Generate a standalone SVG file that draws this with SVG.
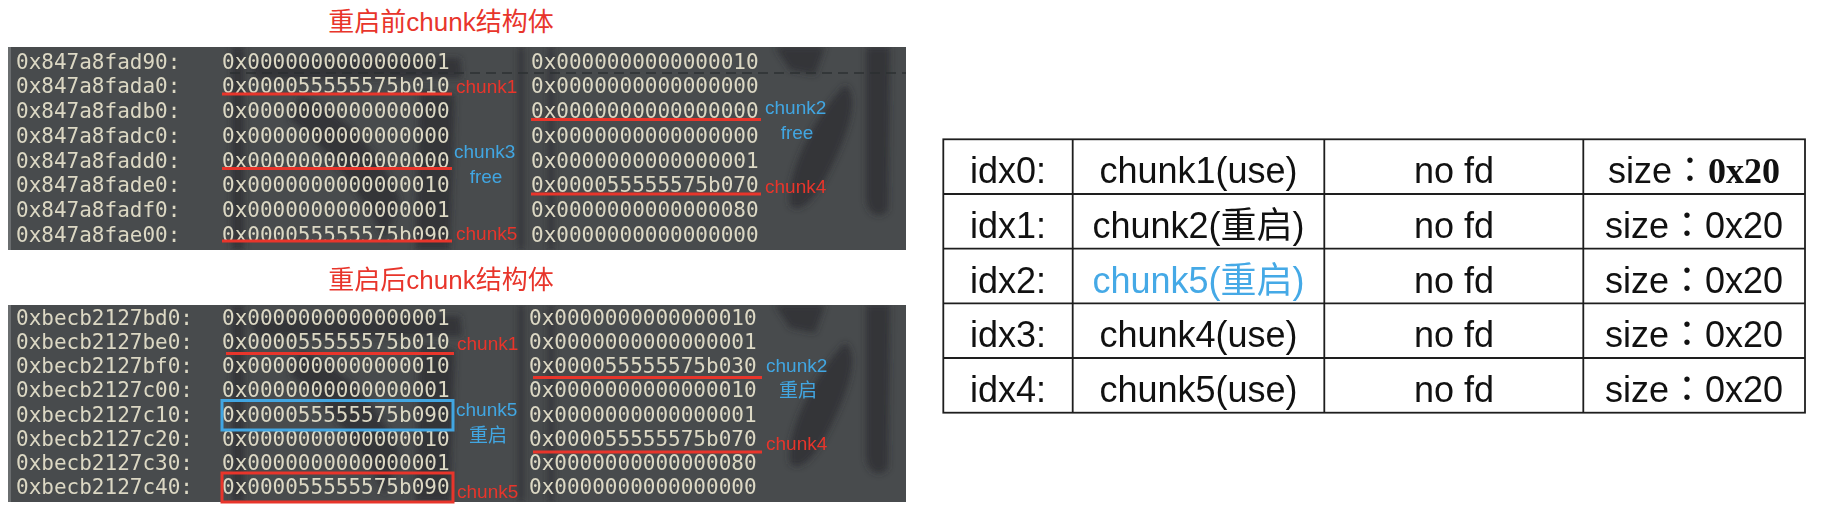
<svg xmlns="http://www.w3.org/2000/svg" width="1826" height="510" viewBox="0 0 1826 510">
<defs>
<style>
.title{font-family:"Liberation Sans","Noto Sans CJK SC",sans-serif;font-size:26px;fill:#e8352b;text-anchor:middle}
.mono{font-family:"DejaVu Sans Mono","Liberation Mono",monospace;font-size:21px;fill:#dcd8c4}
.lbl{font-family:"Liberation Sans","Noto Sans CJK SC",sans-serif;font-size:19px}
.red{fill:#e8352b}
.blue{fill:#41a6e2}
.ul{stroke:#e8352b;stroke-width:3}
.cell{font-family:"Liberation Sans","Noto Sans CJK SC",sans-serif;font-size:36px;fill:#111;text-anchor:middle}
.colon{font-family:"Noto Sans CJK TC",sans-serif}
.grid{stroke:#1e1e1e;stroke-width:1.8;fill:none}
.wm{fill:#2c2f31;opacity:0.75}
</style>
<filter id="blur" x="-20%" y="-20%" width="140%" height="140%"><feGaussianBlur stdDeviation="3"/></filter>
<clipPath id="cpTop"><rect x="8" y="47" width="898" height="203"/></clipPath>
<clipPath id="cpBot"><rect x="8" y="305" width="898" height="197"/></clipPath>
</defs>
<rect width="1826" height="510" fill="#ffffff"/>

<g id="panel-before">
<text class="title" x="441" y="31">重启前chunk结构体</text>
<g clip-path="url(#cpTop)">
<rect x="8" y="47" width="898" height="203" fill="#484b4d"/>
<g filter="url(#blur)">
<rect class="wm" x="232" y="47" width="12" height="203"/>
<path class="wm" d="M250 60 L460 58 L462 78 L255 80 Z"/>
<path class="wm" d="M300 95 C340 110 380 150 400 200 L385 240 C360 190 320 140 290 120 Z"/>
<path class="wm" d="M420 90 L455 95 L450 250 L415 250 Z"/>
<rect class="wm" x="518" y="47" width="6" height="203"/>
<rect class="wm" x="548" y="47" width="6" height="203"/>
<path class="wm" d="M775 47 L825 47 L815 75 L790 70 Z"/>
<path class="wm" d="M845 85 C860 95 850 130 830 170 C815 200 800 215 790 205 C785 180 810 120 845 85 Z"/>
<path class="wm" d="M866 47 L890 47 L888 210 C880 220 868 215 866 200 Z"/>
</g>
<line x1="230" y1="73" x2="906" y2="73" stroke="#2c2f31" stroke-width="2" stroke-dasharray="10 6" opacity="0.7"/>
<rect x="8" y="47" width="3" height="203" fill="#6a6d6f"/>
</g>
<text class="mono" x="16" y="68.5">0x847a8fad90:</text>
<text class="mono" x="222" y="68.5">0x0000000000000001</text>
<text class="mono" x="531" y="68.5">0x0000000000000010</text>
<text class="mono" x="16" y="93.25">0x847a8fada0:</text>
<text class="mono" x="222" y="93.25">0x000055555575b010</text>
<text class="mono" x="531" y="93.25">0x0000000000000000</text>
<text class="mono" x="16" y="118">0x847a8fadb0:</text>
<text class="mono" x="222" y="118">0x0000000000000000</text>
<text class="mono" x="531" y="118">0x0000000000000000</text>
<text class="mono" x="16" y="142.75">0x847a8fadc0:</text>
<text class="mono" x="222" y="142.75">0x0000000000000000</text>
<text class="mono" x="531" y="142.75">0x0000000000000000</text>
<text class="mono" x="16" y="167.5">0x847a8fadd0:</text>
<text class="mono" x="222" y="167.5">0x0000000000000000</text>
<text class="mono" x="531" y="167.5">0x0000000000000001</text>
<text class="mono" x="16" y="192.25">0x847a8fade0:</text>
<text class="mono" x="222" y="192.25">0x0000000000000010</text>
<text class="mono" x="531" y="192.25">0x000055555575b070</text>
<text class="mono" x="16" y="217">0x847a8fadf0:</text>
<text class="mono" x="222" y="217">0x0000000000000001</text>
<text class="mono" x="531" y="217">0x0000000000000080</text>
<text class="mono" x="16" y="241.75">0x847a8fae00:</text>
<text class="mono" x="222" y="241.75">0x000055555575b090</text>
<text class="mono" x="531" y="241.75">0x0000000000000000</text>
<line class="ul" x1="222" y1="94" x2="452" y2="94"/>
<line class="ul" x1="222" y1="168.5" x2="452" y2="168.5"/>
<line class="ul" x1="222" y1="241" x2="452" y2="241"/>
<line class="ul" x1="531" y1="119.5" x2="761" y2="119.5"/>
<line class="ul" x1="531" y1="194" x2="761" y2="194"/>
<text class="lbl red" x="456" y="92.5">chunk1</text>
<text class="lbl blue" x="454" y="158">chunk3</text>
<text class="lbl blue" x="486" y="182.5" text-anchor="middle">free</text>
<text class="lbl red" x="456" y="240">chunk5</text>
<text class="lbl blue" x="765" y="114">chunk2</text>
<text class="lbl blue" x="797" y="139" text-anchor="middle">free</text>
<text class="lbl red" x="765" y="192.5">chunk4</text>
</g>

<g id="panel-after">
<text class="title" x="441" y="289">重启后chunk结构体</text>
<g clip-path="url(#cpBot)">
<rect x="8" y="305" width="898" height="197" fill="#484b4d"/>
<g filter="url(#blur)">
<rect class="wm" x="232" y="305" width="12" height="197"/>
<path class="wm" d="M250 318 L460 316 L462 336 L255 338 Z"/>
<path class="wm" d="M300 350 C340 365 380 405 400 455 L385 495 C360 445 320 395 290 375 Z"/>
<path class="wm" d="M420 345 L455 350 L450 502 L415 502 Z"/>
<rect class="wm" x="518" y="305" width="6" height="197"/>
<rect class="wm" x="548" y="305" width="6" height="197"/>
<path class="wm" d="M775 305 L825 305 L815 333 L790 328 Z"/>
<path class="wm" d="M845 343 C860 353 850 388 830 428 C815 458 800 473 790 463 C785 438 810 378 845 343 Z"/>
<path class="wm" d="M866 305 L890 305 L888 468 C880 478 868 473 866 458 Z"/>
</g>
<rect x="8" y="305" width="3" height="197" fill="#6a6d6f"/>
</g>
<text class="mono" x="16" y="325">0xbecb2127bd0:</text>
<text class="mono" x="222" y="325">0x0000000000000001</text>
<text class="mono" x="529" y="325">0x0000000000000010</text>
<text class="mono" x="16" y="349.15">0xbecb2127be0:</text>
<text class="mono" x="222" y="349.15">0x000055555575b010</text>
<text class="mono" x="529" y="349.15">0x0000000000000001</text>
<text class="mono" x="16" y="373.3">0xbecb2127bf0:</text>
<text class="mono" x="222" y="373.3">0x0000000000000010</text>
<text class="mono" x="529" y="373.3">0x000055555575b030</text>
<text class="mono" x="16" y="397.45">0xbecb2127c00:</text>
<text class="mono" x="222" y="397.45">0x0000000000000001</text>
<text class="mono" x="529" y="397.45">0x0000000000000010</text>
<text class="mono" x="16" y="421.6">0xbecb2127c10:</text>
<text class="mono" x="222" y="421.6">0x000055555575b090</text>
<text class="mono" x="529" y="421.6">0x0000000000000001</text>
<text class="mono" x="16" y="445.75">0xbecb2127c20:</text>
<text class="mono" x="222" y="445.75">0x0000000000000010</text>
<text class="mono" x="529" y="445.75">0x000055555575b070</text>
<text class="mono" x="16" y="469.9">0xbecb2127c30:</text>
<text class="mono" x="222" y="469.9">0x0000000000000001</text>
<text class="mono" x="529" y="469.9">0x0000000000000080</text>
<text class="mono" x="16" y="494.05">0xbecb2127c40:</text>
<text class="mono" x="222" y="494.05">0x000055555575b090</text>
<text class="mono" x="529" y="494.05">0x0000000000000000</text>
<line class="ul" x1="226" y1="353.5" x2="454" y2="353.5"/>
<line class="ul" x1="533" y1="377.5" x2="762" y2="377.5"/>
<line class="ul" x1="533" y1="452" x2="762" y2="452"/>
<rect x="222" y="400.5" width="231" height="29.5" fill="none" stroke="#41a6e2" stroke-width="3"/>
<rect x="222" y="473" width="231" height="29" fill="none" stroke="#e8352b" stroke-width="3"/>
<text class="lbl red" x="457" y="350">chunk1</text>
<text class="lbl blue" x="456" y="416">chunk5</text>
<text class="lbl blue" x="488" y="441.5" text-anchor="middle">重启</text>
<text class="lbl red" x="457" y="498">chunk5</text>
<text class="lbl blue" x="766" y="371.5">chunk2</text>
<text class="lbl blue" x="798" y="396.5" text-anchor="middle">重启</text>
<text class="lbl red" x="766" y="450">chunk4</text>
</g>

<g id="table">
<rect class="grid" x="943.3" y="139.3" width="861.7" height="273.4"/>
<line class="grid" x1="943.3" y1="194" x2="1805" y2="194"/>
<line class="grid" x1="943.3" y1="248.6" x2="1805" y2="248.6"/>
<line class="grid" x1="943.3" y1="303.3" x2="1805" y2="303.3"/>
<line class="grid" x1="943.3" y1="358" x2="1805" y2="358"/>
<line class="grid" x1="1072.7" y1="139.3" x2="1072.7" y2="412.7"/>
<line class="grid" x1="1324.3" y1="139.3" x2="1324.3" y2="412.7"/>
<line class="grid" x1="1583.3" y1="139.3" x2="1583.3" y2="412.7"/>
<g id="row0">
<text class="cell" x="1008" y="183.3">idx0:</text>
<text class="cell" x="1198.5" y="183.3">chunk1(use)</text>
<text class="cell" x="1454" y="183.3">no fd</text>
<text class="cell" x="1694" y="183.3">size<tspan class="colon">：</tspan><tspan font-family="Liberation Serif" font-weight="bold">0x20</tspan></text>
</g>
<g id="row1">
<text class="cell" x="1008" y="238">idx1:</text>
<text class="cell" x="1198.5" y="238">chunk2(重启)</text>
<text class="cell" x="1454" y="238">no fd</text>
<text class="cell" x="1694" y="238">size<tspan class="colon">：</tspan>0x20</text>
</g>
<g id="row2">
<text class="cell" x="1008" y="292.7">idx2:</text>
<text class="cell" x="1198.5" y="292.7" style="fill:#45a9e6">chunk5(重启)</text>
<text class="cell" x="1454" y="292.7">no fd</text>
<text class="cell" x="1694" y="292.7">size<tspan class="colon">：</tspan>0x20</text>
</g>
<g id="row3">
<text class="cell" x="1008" y="347.4">idx3:</text>
<text class="cell" x="1198.5" y="347.4">chunk4(use)</text>
<text class="cell" x="1454" y="347.4">no fd</text>
<text class="cell" x="1694" y="347.4">size<tspan class="colon">：</tspan>0x20</text>
</g>
<g id="row4">
<text class="cell" x="1008" y="402.1">idx4:</text>
<text class="cell" x="1198.5" y="402.1">chunk5(use)</text>
<text class="cell" x="1454" y="402.1">no fd</text>
<text class="cell" x="1694" y="402.1">size<tspan class="colon">：</tspan>0x20</text>
</g>
</g>
</svg>
